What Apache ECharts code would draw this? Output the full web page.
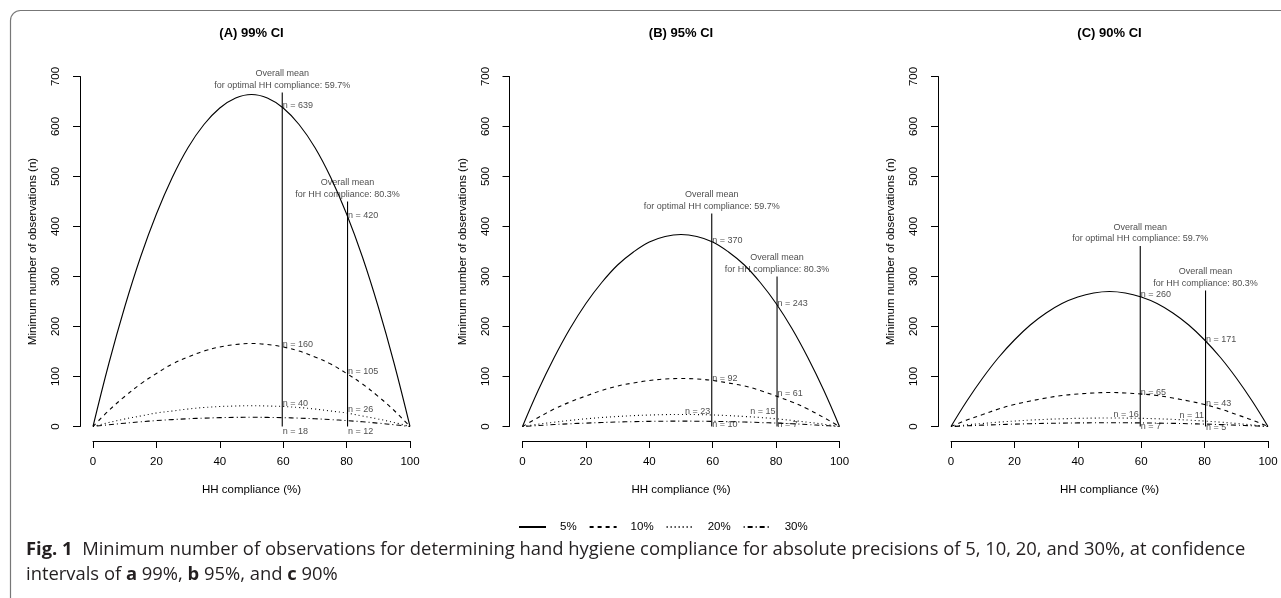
<!DOCTYPE html>
<html>
<head>
<meta charset="utf-8">
<script src="https://cdn.jsdelivr.net/npm/echarts@6/dist/echarts.min.js"></script>
<style>
html,body{margin:0;padding:0;background:#fff;}
#chart{width:1281px;height:598px;}
</style>
</head>
<body>
<div id="chart"></div>
<script>
// ---- data ----
const compliance = [0,5,10,15,20,25,30,35,40,45,50,55,60,65,70,75,80,85,90,95,100];
const precisions = ['5%','10%','20%','30%'];
const panelTitles = ['(A) 99% CI','(B) 95% CI','(C) 90% CI'];

const ci99_p5  = [0,126,239,339,425,498,558,604,637,657,664,657,637,604,558,498,425,339,239,126,0];
const ci99_p10 = [0,32,60,85,106,125,139,151,159,164,166,164,159,151,139,125,106,85,60,32,0];
const ci99_p20 = [0,8,15,21,27,31,35,38,40,41,41.5,41,40,38,35,31,27,21,15,8,0];
const ci99_p30 = [0,3.5,6.6,9.4,11.8,13.8,15.5,16.7,17.7,18.2,18.4,18.2,17.7,16.7,15.5,13.8,11.8,9.4,6.6,3.5,0];

const ci95_p5  = [0,73,138,196,246,288,323,349,369,380,384,380,369,349,323,288,246,196,138,73,0];
const ci95_p10 = [0,18,35,49,61,72,81,87,92,95,96,95,92,87,81,72,61,49,35,18,0];
const ci95_p20 = [0,4.6,8.6,12.2,15.4,18,20,21.8,23,23.8,24,23.8,23,21.8,20,18,15.4,12.2,8.6,4.6,0];
const ci95_p30 = [0,2,3.9,5.5,6.8,8,9,9.7,10.3,10.6,10.7,10.6,10.3,9.7,9,8,6.8,5.5,3.9,2,0];

const ci90_p5  = [0,51,97,138,173,203,227,246,259,267,270,267,259,246,227,203,173,138,97,51,0];
const ci90_p10 = [0,13,24,35,44,51,57,62,65,67,68,67,65,62,57,51,44,35,24,13,0];
const ci90_p20 = [0,3.2,6.1,8.7,10.9,12.8,14.3,15.5,16.3,16.8,17,16.8,16.3,15.5,14.3,12.8,10.9,8.7,6.1,3.2,0];
const ci90_p30 = [0,1.4,2.7,3.8,4.8,5.6,6.3,6.8,7.2,7.4,7.5,7.4,7.2,6.8,6.3,5.6,4.8,3.8,2.7,1.4,0];

const meanCompliance = [59.7, 80.3];
const meanLabels = ['Overall mean\nfor optimal HH compliance: 59.7%','Overall mean\nfor HH compliance: 80.3%'];
const refTopA = [668, 450];
const refTopB = [426, 300];
const refTopC = [361, 272];

// n annotations: [x, y, text, side]
const nLabelsA = [[59.7,642,'n = 639','r'],[80.3,422,'n = 420','r'],[59.7,163,'n = 160','r'],[80.3,110,'n = 105','r'],
  [59.7,46,'n = 40','r'],[80.3,33,'n = 26','r'],[59.7,-10,'n = 18','r'],[80.3,-11,'n = 12','r']];
const nLabelsB = [[59.7,372,'n = 370','r'],[80.3,246,'n = 243','r'],[59.7,96,'n = 92','r'],[80.3,66,'n = 61','r'],
  [59.7,30,'n = 23','l'],[80.3,30,'n = 15','l'],[59.7,3,'n = 10','r'],[80.3,3,'n = 7','r']];
const nLabelsC = [[59.7,264,'n = 260','r'],[80.3,174,'n = 171','r'],[59.7,68,'n = 65','r'],[80.3,46,'n = 43','r'],
  [59.7,24,'n = 16','l'],[80.3,21,'n = 11','l'],[59.7,0,'n = 7','r'],[80.3,-2,'n = 5','r']];

const xTicks = {min:0, max:100, interval:20};
const yTicks = {min:0, max:700, interval:100};

// ---- build ----
const FONT = '"Liberation Sans", Arial, Helvetica, sans-serif';
const dashStyles = ['solid',[4,4],[1,3],[1,3,5,3]];
const panels = [
  {curves:[ci99_p5,ci99_p10,ci99_p20,ci99_p30], tops:refTopA, labels:nLabelsA},
  {curves:[ci95_p5,ci95_p10,ci95_p20,ci95_p30], tops:refTopB, labels:nLabelsB},
  {curves:[ci90_p5,ci90_p10,ci90_p20,ci90_p30], tops:refTopC, labels:nLabelsC}
];
const gridLefts = [93, 522.5, 951];
const grids = [], xAxes = [], yAxes = [], series = [], graphics = [];

panels.forEach((p, i) => {
  grids.push({left: gridLefts[i], top: 76.5, width: 317, height: 350, containLabel: false});
  xAxes.push({
    type:'value', gridIndex:i, min:xTicks.min, max:xTicks.max, interval:xTicks.interval, offset:14.5,
    axisLine:{show:true, onZero:false, lineStyle:{color:'#000', width:1}},
    axisTick:{show:true, length:7, lineStyle:{color:'#000', width:1}},
    axisLabel:{color:'#000', fontFamily:FONT, fontSize:11.5, margin:15},
    splitLine:{show:false},
    name:'HH compliance (%)', nameLocation:'middle', nameGap:43,
    nameTextStyle:{color:'#000', fontFamily:FONT, fontSize:11.5}
  });
  yAxes.push({
    type:'value', gridIndex:i, min:yTicks.min, max:yTicks.max, interval:yTicks.interval, offset:13,
    axisLine:{show:true, onZero:false, lineStyle:{color:'#000', width:1}},
    axisTick:{show:true, length:7, lineStyle:{color:'#000', width:1}},
    axisLabel:{color:'#000', fontFamily:FONT, fontSize:11.5, rotate:90, margin:18},
    splitLine:{show:false},
    name:'Minimum number of observations (n)', nameLocation:'middle', nameGap:41,
    nameTextStyle:{color:'#000', fontFamily:FONT, fontSize:11.5}
  });
  p.curves.forEach((vals, k) => {
    series.push({
      type:'line', name:precisions[k], xAxisIndex:i, yAxisIndex:i,
      data: compliance.map((x, j) => [x, vals[j]]),
      smooth:0.4, symbol:'none', clip:false, silent:true,
      itemStyle:{color:'#000'},
      lineStyle:{color:'#000', width:1.1, type:dashStyles[k]}
    });
  });
  meanCompliance.forEach((m, k) => {
    series.push({
      type:'line', xAxisIndex:i, yAxisIndex:i, data:[[m,0],[m,p.tops[k]]],
      symbol:'none', clip:false, silent:true, lineStyle:{color:'#000', width:1.1}
    });
    series.push({
      type:'scatter', xAxisIndex:i, yAxisIndex:i, data:[[m,p.tops[k]]],
      symbolSize:1, itemStyle:{color:'rgba(0,0,0,0)'}, silent:true, clip:false,
      label:{show:true, position:'top', distance:1, formatter:meanLabels[k],
        color:'#1a1a1a', fontFamily:FONT, fontSize:9, lineHeight:11.5, align:'center'}
    });
  });
  series.push({
    type:'scatter', xAxisIndex:i, yAxisIndex:i, symbolSize:1, itemStyle:{color:'rgba(0,0,0,0)'}, silent:true, clip:false,
    data: p.labels.map(l => ({value:[l[0], l[1]], name:l[2],
      label:{position: l[3]==='r' ? 'right' : 'left', distance: l[3]==='r' ? 0 : 1}})),
    label:{show:true, formatter:'{b}', color:'#222', fontFamily:FONT, fontSize:9}
  });
  graphics.push({type:'text', x: gridLefts[i] + 158.5, y: 33,
    style:{text: panelTitles[i], fill:'#000', font:'bold 13px ' + FONT, align:'center', verticalAlign:'middle'}});
});

graphics.push({type:'rect', shape:{x:10.5, y:10.5, width:1300, height:620, r:10},
  style:{fill:'none', stroke:'#777', lineWidth:1.2}, silent:true, z:-1});
graphics.push({type:'text', x:26, y:550,
  style:{text:'{b|Fig. 1}  Minimum number of observations for determining hand hygiene compliance for absolute precisions of 5, 10, 20, and 30%, at confidence',
    font:'18.4px "Open Sans", sans-serif', fill:'#231f20', verticalAlign:'middle',
    rich:{b:{font:'bold 18.4px "Open Sans", sans-serif', fill:'#231f20'}}}});
graphics.push({type:'text', x:26, y:575,
  style:{text:'intervals of {b|a} 99%, {b|b} 95%, and {b|c} 90%',
    font:'18.4px "Open Sans", sans-serif', fill:'#231f20', verticalAlign:'middle',
    rich:{b:{font:'bold 18.4px "Open Sans", sans-serif', fill:'#231f20'}}}});

const chart = echarts.init(document.getElementById('chart'), null, {renderer:'canvas'});
chart.setOption({
  animation:false,
  backgroundColor:'#fff',
  grid:grids, xAxis:xAxes, yAxis:yAxes, series:series, graphic:graphics,
  legend:{data:precisions, left:513, top:516, itemWidth:27, itemHeight:12, itemGap:12, selectedMode:false,
    itemStyle:{opacity:0},
    textStyle:{color:'#000', fontFamily:FONT, fontSize:11.5, width:28, padding:[0,0,0,9]}}
});
</script>
</body>
</html>
